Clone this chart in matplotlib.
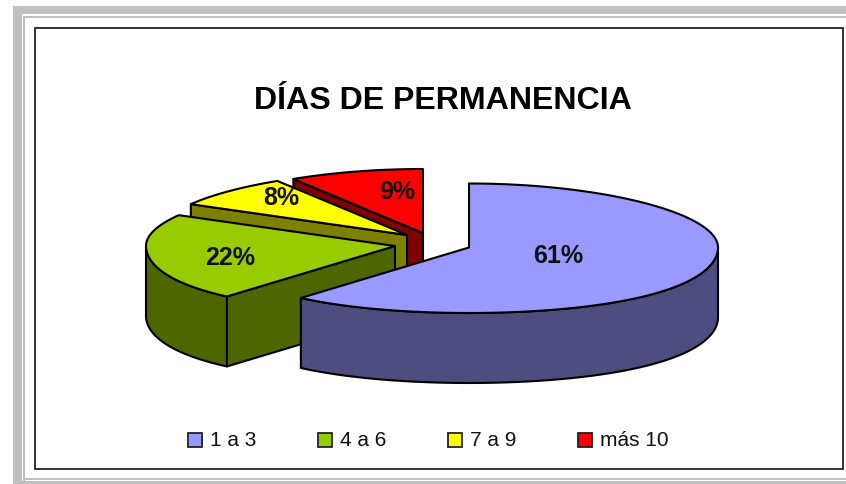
import numpy as np
from matplotlib import pyplot as plt
from matplotlib.patches import Polygon, Rectangle

plt.rcParams['font.family'] = ['Liberation Sans', 'DejaVu Sans']

title = 'DÍAS DE PERMANENCIA'
categories = ['1 a 3', '4 a 6', '7 a 9', 'más 10']
values = [61, 22, 8, 9]
pct_labels = ['61%', '22%', '8%', '9%']

top_colors = ['#9999ff', '#99cc00', '#ffff00', '#ff0000']
side_colors = ['#4d4d80', '#4d6600', '#808000', '#800000']

W, H = 846, 485
rx, depth = 249, 70
ry_back, ry_front = 64, 65.5
# a bit of perspective: the front of the disc looks wider than the back
k_back, k_front = 0.04, 0.1
# exploded centre of every slice, pixels
centres = [(469, 248.5), (395, 247), (407, 236), (423, 234)]
label_pos = [(558, 256), (230, 258), (281, 198), (397, 192)]
legend_x = [188, 318, 448, 578]
lw = 1.5

fig = plt.figure(figsize=(W / 100, H / 100), dpi=100)
ax = fig.add_axes([0, 0, 1, 1])
ax.set_xlim(0, W)
ax.set_ylim(H, 0)
ax.axis('off')

# page frame
gray = '#c0c0c0'
ax.add_patch(Rectangle((13, 7), W - 13, 8, fc=gray, ec='none'))
ax.add_patch(Rectangle((13, 7), 9, H - 7, fc=gray, ec='none'))
ax.add_patch(Rectangle((23, 17), W - 23, 2, fc=gray, ec='none'))
ax.add_patch(Rectangle((23, 17), 2, H - 17, fc=gray, ec='none'))
ax.add_patch(Rectangle((23, 479), W - 23, 2, fc=gray, ec='none'))
ax.add_patch(Rectangle((13, 482), W - 13, 3, fc=gray, ec='none'))
ax.add_patch(Rectangle((34.5, 28.5), 808, 441, fc='white', ec='#222222', lw=1.3))


def rim(cx, cy, a0, a1, dy=0):
    t = np.radians(np.linspace(a0, a1, 120))
    s = np.sin(t)
    y = np.where(s < 0, ry_back * s, ry_front * s)
    k = np.where(s < 0, -k_back * s ** 2, k_front * s ** 2)
    x = rx * np.cos(t) * (1 + k)
    return np.column_stack([cx + x, cy + y + dy])


# slice angles, clockwise on screen from 12 o'clock
fracs = np.array(values) / sum(values) * 360
starts = -90 + np.concatenate([[0], np.cumsum(fracs)[:-1]])
ends = starts + fracs

# back slices first
for i in [3, 2, 1, 0]:
    cx, cy = centres[i]
    a0, a1 = starts[i], ends[i]
    style = dict(ec='black', lw=lw, joinstyle='round')
    apex = np.array([cx, cy])

    # cut face towards the viewer, the big slice has none
    if i > 0:
        p = rim(cx, cy, a0, a0)[0]
        face = [apex, p, p + [0, depth], apex + [0, depth]]
        ax.add_patch(Polygon(face, fc=side_colors[i], **style))

    # outer wall, only the part facing the viewer
    lo, hi = max(a0, 0), min(a1, 180)
    if lo < hi:
        upper = rim(cx, cy, lo, hi)
        lower = rim(cx, cy, hi, lo, depth)
        ax.add_patch(Polygon(np.vstack([upper, lower]), fc=side_colors[i], **style))

    # top
    top = np.vstack([apex, rim(cx, cy, a0, a1)])
    ax.add_patch(Polygon(top, fc=top_colors[i], **style))

for lab, (x, y) in zip(pct_labels, label_pos):
    ax.text(x, y, lab, fontsize=18, fontweight='bold', ha='center', va='center', color='#111111')

ax.text(442.5, 101, title, fontsize=23.1, fontweight='bold', ha='center', va='center', color='black')

for x, cat, col in zip(legend_x, categories, top_colors):
    ax.add_patch(Rectangle((x, 434), 14, 14, fc=col, ec='#222222', lw=1.3))
    ax.text(x + 22, 441, cat, fontsize=15, ha='left', va='center', color='#111111')

plt.savefig('out.png', dpi=100)
